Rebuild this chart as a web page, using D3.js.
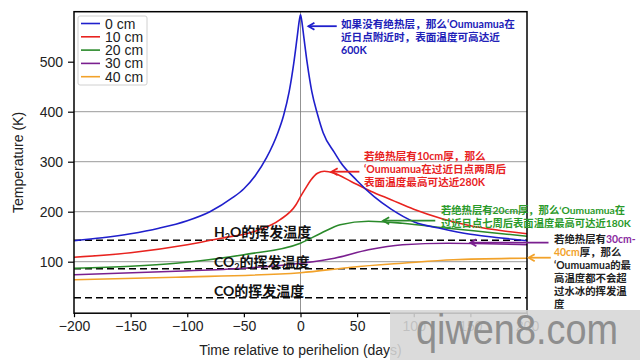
<!DOCTYPE html>
<html><head><meta charset="utf-8">
<script src="https://cdn.jsdelivr.net/npm/d3@7"></script>
<style>body{margin:0;background:#fff}svg{display:block}</style>
</head><body>
<svg id="c" width="640" height="360"></svg>
<script>
// ---------- data ----------
const seriesNames = ["0 cm", "10 cm", "20 cm", "30 cm", "40 cm"];
const days0  = [-200,-175,-150,-125,-100,-80,-60,-50,-40,-30,-20,-15,-10,-6,-3,-1,0,1,3,6,10,15,20,30,35,50,65,80,100,125,150,175,200];
const temp0  = [142,148,156,167,182,200,228,246,272,308,358,392,440,496,548,583,594,583,548,496,440,395,358,318,300,262,230,205,180,166,155,148,142];
const days10 = [-200,-150,-100,-70,-40,-18,-4,0,4,9,15,21,30,45,62,80,100,125,150,175,200];
const temp10 = [109,118,134,147,161,184,214,230,245,263,277,281,277,260,241,224,205,186,172,163,156];
const days20 = [-200,-150,-110,-50,0,18,35,60,90,130,165,200];
const temp20 = [87,91,97,114,137,157,174,181,177,167,159,151];
const days30 = [-200,-110,-50,0,30,60,90,130,165,200];
const temp30 = [74,81,87,97,107,124,134,137,136,134];
const days40 = [-200,-110,0,45,90,135,200];
const temp40 = [64,69,78,89,97,104,107];
const volatiles = ["H2O", "CO2", "CO"];
const volatileTemps = [143, 86, 28];
const xTicks = [-200,-150,-100,-50,0,50,100,150,200];
const yTicks = [100,200,300,400,500];
const gridTemps = [100,200,300,400];

// ---------- styles ----------
const colors = ["#1f1fcc", "#e8231f", "#2a8a2a", "#7a1f8f", "#f2a22a"];
const axisFont = "'Liberation Sans', Arial, Helvetica, sans-serif";
const cjkFont = "Lato, 'Noto Sans CJK SC', sans-serif";

const svg = d3.select("#c");
const x = d3.scaleLinear().domain([-200, 200]).range([74, 527]);
const y = d3.scaleLinear().domain([-3, 600]).range([313.2, 11.7]);

// gridlines
svg.append("g").selectAll("line").data(gridTemps).join("line")
  .attr("x1", x(-200)).attr("x2", x(200))
  .attr("y1", d => y(d)).attr("y2", d => y(d))
  .attr("stroke", "#9a9a9a").attr("stroke-width", 1);
svg.append("line").attr("x1", x(0)).attr("x2", x(0))
  .attr("y1", y(600)).attr("y2", y(-3))
  .attr("stroke", "#777").attr("stroke-width", 0.8);

// volatile dashed lines
svg.append("g").selectAll("line").data(volatileTemps).join("line")
  .attr("x1", x(-200)).attr("x2", x(200))
  .attr("y1", d => y(d)).attr("y2", d => y(d))
  .attr("stroke", "#000").attr("stroke-width", 1.6)
  .attr("stroke-dasharray", "7,4");

// curves
const allDays = [days0, days10, days20, days30, days40];
const allTemps = [temp0, temp10, temp20, temp30, temp40];
const line = d3.line().x(d => x(d[0])).y(d => y(d[1])).curve(d3.curveMonotoneX);
const order = [4,3,2,1,0];
order.forEach(i => {
  const pts = allDays[i].map((d, j) => [d, allTemps[i][j]]);
  svg.append("path").attr("d", line(pts)).attr("fill", "none")
    .attr("stroke", colors[i]).attr("stroke-width", 1.6);
});

// frame
svg.append("rect").attr("x", x(-200)).attr("y", y(600))
  .attr("width", x(200) - x(-200)).attr("height", y(-3) - y(600))
  .attr("fill", "none").attr("stroke", "#000").attr("stroke-width", 1.5);

// axes
const xAxis = svg.append("g").attr("transform", `translate(0,${y(-3)})`)
  .call(d3.axisBottom(x).tickValues(xTicks).tickSize(4).tickPadding(4)
    .tickFormat(d => d < 0 ? "\u2212" + Math.abs(d) : d));
const yAxis = svg.append("g").attr("transform", `translate(${x(-200)},0)`)
  .call(d3.axisLeft(y).tickValues(yTicks).tickSize(6).tickPadding(5));
[xAxis, yAxis].forEach(a => {
  a.select(".domain").remove();
  a.selectAll("line").attr("stroke", "#000").attr("stroke-width", 1.2);
  a.selectAll("text").attr("font-family", axisFont).attr("font-size", 14).attr("fill", "#222");
});

svg.append("text").attr("x", x(0)).attr("y", 355).attr("text-anchor", "middle")
  .attr("font-family", axisFont).attr("font-size", 14).attr("fill", "#222")
  .text("Time relative to perihelion (days)");
svg.append("text").attr("transform", `translate(23,${(y(600)+y(-3))/2}) rotate(-90)`)
  .attr("text-anchor", "middle")
  .attr("font-family", axisFont).attr("font-size", 14).attr("fill", "#222")
  .text("Temperature (K)");

// legend
const lg = svg.append("g");
lg.append("rect").attr("x", 78).attr("y", 16).attr("width", 69).attr("height", 69)
  .attr("rx", 2).attr("fill", "#fff").attr("stroke", "#d0d0d0").attr("stroke-width", 1);
seriesNames.forEach((n, i) => {
  const yy = 23.5 + i * 13.3;
  lg.append("line").attr("x1", 81).attr("x2", 100).attr("y1", yy).attr("y2", yy)
    .attr("stroke", colors[i]).attr("stroke-width", 1.6);
  lg.append("text").attr("x", 105).attr("y", yy + 5).attr("font-family", axisFont)
    .attr("font-size", 14).attr("fill", "#222").text(n);
});

// volatile labels
const volLabelY = [231.5, 261.5, 290.5];
volatiles.forEach((v, i) => {
  const t = svg.append("text").attr("x", 214).attr("y", volLabelY[i] + 5)
    .attr("font-family", cjkFont).attr("font-size", 14).attr("font-weight", 700).attr("fill", "#111");
  if (v === "H2O") {
    t.append("tspan").text("H");
    t.append("tspan").attr("font-size", 9).attr("dy", 3).text("2");
    t.append("tspan").attr("dy", -3).text("O的挥发温度");
  } else if (v === "CO2") {
    t.append("tspan").text("CO");
    t.append("tspan").attr("font-size", 9).attr("dy", 3).text("2");
    t.append("tspan").attr("dy", -3).text("的挥发温度");
  } else {
    t.text("CO的挥发温度");
  }
});

// arrows (data coordinates)
function arrow(t1, t2, T, color) {
  const x1 = x(t1), x2 = x(t2), yy = y(T);
  svg.append("line").attr("x1", x1).attr("x2", x2).attr("y1", yy).attr("y2", yy)
    .attr("stroke", color).attr("stroke-width", 1.8);
  svg.append("path").attr("d", `M${x2+6},${yy-3.5} L${x2},${yy} L${x2+6},${yy+3.5}`)
    .attr("fill", "none").attr("stroke", color).attr("stroke-width", 1.8);
}
arrow(32, 7, 571, colors[0]);
arrow(52, 27.5, 280, colors[1]);
arrow(119, 73, 182, colors[2]);
arrow(219, 150, 138, colors[3]);
arrow(221, 201.5, 108, colors[4]);

// annotation text
function ann(xp, yp, lines, color, fs, lh) {
  lines.forEach((ln, i) => {
    const t = svg.append("text").attr("x", xp).attr("y", yp + i * (lh || 13.3))
      .attr("font-family", cjkFont).attr("font-size", fs || 10.6).attr("font-weight", 700);
    (Array.isArray(ln) ? ln : [[ln, color]]).forEach(seg => {
      t.append("tspan").attr("fill", seg[1]).text(seg[0]);
    });
  });
}
ann(341, 27.5, ["如果没有绝热层，那么‘Oumuamua在", "近日点附近时，表面温度可高达近", "600K"], "#2020b8");
ann(364, 159.5, ["若绝热层有10cm厚，那么", "‘Oumuamua在过近日点两周后", "表面温度最高可达近280K"], "#e8231f");
ann(441, 213.5, ["若绝热层有20cm厚，那么‘Oumuamua在", "过近日点七周后表面温度最高可达近180K"], "#2a9a2a", 10.3);
ann(554, 243, [
  [["若绝热层有", "#222"], ["30cm-", "#8a2aa0"]],
  [["40cm", "#f2a22a"], ["厚，那么", "#222"]],
  [["‘Oumuamua的最", "#222"]],
  [["高温度都不会超", "#222"]],
  [["过水冰的挥发温", "#222"]],
  [["度", "#222"]]
], "#222", 10.4, 12.9);

// watermark
svg.append("rect").attr("x", 390).attr("y", 310).attr("width", 250).attr("height", 50)
  .attr("fill", "#d6d6d6").attr("opacity", 0.88);
svg.append("text").attr("x", 416).attr("y", 344).attr("font-family", axisFont)
  .attr("font-size", 42).attr("fill", "#8e8e8e")
  .attr("textLength", 202).attr("lengthAdjust", "spacingAndGlyphs").text("qiwen8.com");
</script>
</body></html>
